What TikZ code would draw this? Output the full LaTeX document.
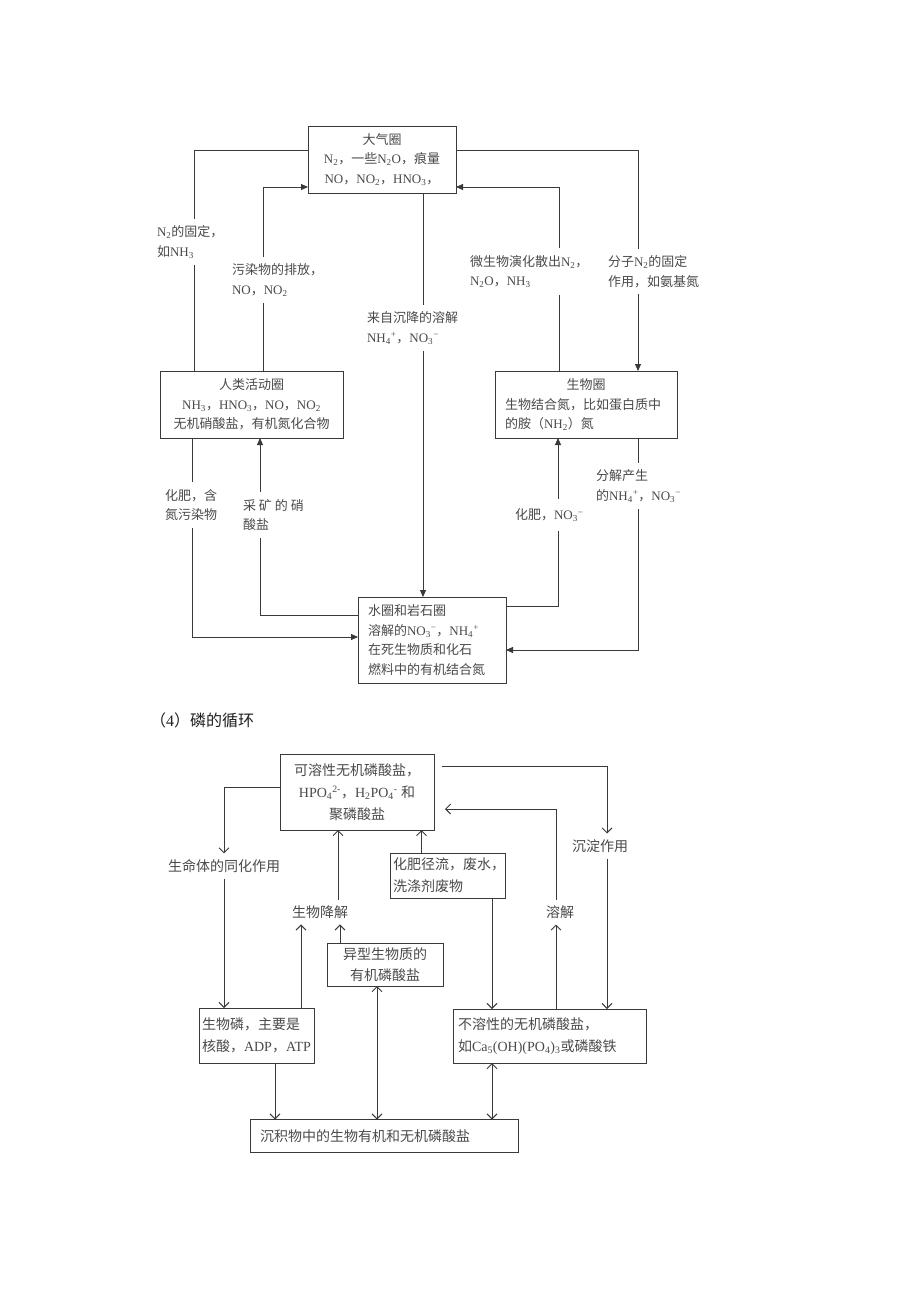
\documentclass[tikz,border=0pt]{standalone}
\usepackage{fontspec}
\setmainfont{Liberation Serif}
\newfontfamily\cjk{Noto Sans CJK SC}
\newcommand\zh[1]{{\cjk #1}}
\newcommand\sub[1]{\textsubscript{#1}}
\newcommand\sps[1]{\textsuperscript{#1}}
\usetikzlibrary{arrows.meta}
\definecolor{lineN}{HTML}{3A3A3A}
\definecolor{textN}{HTML}{4A4A4A}
\definecolor{titleC}{HTML}{202020}
\begin{document}
\begin{tikzpicture}[x=1pt,y=-1pt,
  every node/.style={inner sep=0pt, outer sep=0pt},
  nbox/.style={draw=lineN, line width=0.9pt, fill=white, text=textN, align=center,
    font=\fontsize{13}{19.5}\selectfont},
  nlab/.style={fill=white, text=textN, inner xsep=1pt, inner ysep=7pt, align=left, anchor=west,
    font=\fontsize{13}{19.5}\selectfont},
  nline/.style={draw=lineN, line width=0.9pt},
  narr/.style={nline, -{Triangle[length=7pt,width=6pt]}},
  pbox/.style={draw=lineN, line width=0.9pt, fill=white, text=textN, align=center,
    font=\fontsize{14}{22}\selectfont},
  plab/.style={text=textN, inner ysep=6pt, font=\fontsize{14}{22}\selectfont},
  parr/.style={draw=lineN, line width=0.9pt, -{Straight Barb[length=5pt,width=10pt]}},
  pdarr/.style={draw=lineN, line width=0.9pt, {Straight Barb[length=5pt,width=10pt]}-{Straight Barb[length=5pt,width=10pt]}}
]
\fill[white] (0,0) rectangle (920,1302);
\useasboundingbox (0,0) rectangle (920,1302);

% ---------------- nitrogen cycle ----------------
\node[nbox, minimum width=148pt, minimum height=67pt] (atm) at (382,159.5)
  {\zh{大气圈}\\N\sub{2}\zh{，一些}N\sub{2}O\zh{，痕量}\\NO\zh{，}NO\sub{2}\zh{，}HNO\sub{3}\zh{，}};
\node[nbox, minimum width=183pt, minimum height=67pt] (human) at (251.5,404.5)
  {\zh{人类活动圈}\\NH\sub{3}\zh{，}HNO\sub{3}\zh{，}NO\zh{，}NO\sub{2}\\\zh{无机硝酸盐，有机氮化合物}};
\node[nbox, minimum width=182pt, minimum height=67pt] (bio) at (586,404.5)
  {\zh{生物圈}\\\makebox[162pt][l]{\zh{生物结合氮，比如蛋白质中}}\\\makebox[162pt][l]{\zh{的胺（}NH\sub{2}\zh{）氮}}};
\node[nbox, minimum width=148pt, minimum height=86pt] (water) at (432,640)
  {\makebox[128pt][l]{\zh{水圈和岩石圈}}\\
   \makebox[128pt][l]{\zh{溶解的}NO\sub{3}\sps{−}\zh{，}NH\sub{4}\sps{+}}\\
   \makebox[128pt][l]{\zh{在死生物质和化石}}\\
   \makebox[128pt][l]{\zh{燃料中的有机结合氮}}};

\coordinate (c3) at ([xshift=41pt]atm.south);
\draw[nline] ([yshift=9.5pt]atm.west) -| ([xshift=-57.5pt]human.north);
\draw[narr] ([xshift=11.5pt]human.north) |- ([yshift=-27.5pt]atm.west);
\draw[narr] (c3) -- (c3 |- water.north);
\draw[narr] ([yshift=9.5pt]atm.east) -| ([xshift=52pt]bio.north);
\draw[narr] ([xshift=-27pt]bio.north) |- ([yshift=-27.5pt]atm.east);
\draw[narr] ([xshift=-59.5pt]human.south) |- ([yshift=3pt]water.west);
\draw[narr] ([yshift=25pt]water.west) -| ([xshift=8.5pt]human.south);
\draw[narr] ([yshift=34pt]water.east) -| ([xshift=-28pt]bio.south);
\draw[narr] ([xshift=52pt]bio.south) |- ([yshift=-10pt]water.east);

\node[nlab] (l1) at (156,242) {N\sub{2}\zh{的固定，}\\\zh{如}NH\sub{3}};
\node[nlab] (l2) at (231,280) {\zh{污染物的排放，}\\NO\zh{，}NO\sub{2}};
\node[nlab] (l3) at (366,328) {\zh{来自沉降的溶解}\\NH\sub{4}\sps{+}\zh{，}NO\sub{3}\sps{−}};
\node[nlab] (l4) at (469,271.5) {\zh{微生物演化散出}N\sub{2}\zh{，}\\N\sub{2}O\zh{，}NH\sub{3}};
\node[nlab] (l5) at (607,271.5) {\zh{分子}N\sub{2}\zh{的固定}\\\zh{作用，如氨基氮}};
\node[nlab] (l6) at (164,505) {\zh{化肥，含}\\\zh{氮污染物}};
\node[nlab] (l7) at (242,515) {\zh{采\hspace{3pt}矿\hspace{3pt}的\hspace{3pt}硝}\\\zh{酸盐}};
\node[nlab, inner ysep=10pt] (l8) at (514,515) {\zh{化肥，}NO\sub{3}\sps{−}};
\node[nlab] (l9) at (595,486) {\zh{分解产生}\\\zh{的}NH\sub{4}\sps{+}\zh{，}NO\sub{3}\sps{−}};

% ---------------- title ----------------
\node[anchor=west, text=titleC, font=\fontsize{16}{20}\selectfont] (title) at (150,720)
  {\zh{（}4\zh{）磷的循环}};

% ---------------- phosphorus cycle ----------------
\node[pbox, minimum width=154pt, minimum height=76pt] (Psol) at (357,792)
  {\zh{可溶性无机磷酸盐，}\\HPO\sub{4}\sps{2-}\zh{，}H\sub{2}PO\sub{4}\sps{-} \zh{和}\\\zh{聚磷酸盐}};
\node[pbox, minimum width=115pt, minimum height=45pt] (Pfert) at (447.5,875.5)
  {\makebox[109pt][l]{\zh{化肥径流，废水，}}\\\makebox[109pt][l]{\zh{洗涤剂废物}}};
\node[pbox, minimum width=116pt, minimum height=43pt, font=\fontsize{14}{21}\selectfont] (Pxeno) at (385,964.5)
  {\zh{异型生物质的}\\\zh{有机磷酸盐}};
\node[pbox, minimum width=115pt, minimum height=55pt] (Pbio) at (256.5,1035.5)
  {\makebox[109pt][l]{\zh{生物磷，主要是}}\\\makebox[109pt][l]{\zh{核酸，}ADP\zh{，}ATP}};
\node[pbox, minimum width=193pt, minimum height=54pt] (Pinsol) at (549.5,1036)
  {\makebox[183pt][l]{\zh{不溶性的无机磷酸盐，}}\\\makebox[183pt][l]{\zh{如}Ca\sub{5}(OH)(PO\sub{4})\sub{3}\zh{或磷酸铁}}};
\node[pbox, minimum width=268pt, minimum height=33pt] (Psed) at (384,1136)
  {\makebox[248pt][l]{\zh{沉积物中的生物有机和无机磷酸盐}}};

\node[plab] (assim) at (224,866) {\zh{生命体的同化作用}};
\node[plab] (sed) at (600,846) {\zh{沉淀作用}};
\node[plab] (dis) at (560,912) {\zh{溶解}};
\node[plab] (deg) at (320,912) {\zh{生物降解}};

\coordinate (a1) at (assim.south);
\draw[parr] ([yshift=5pt]Psol.west) -| (assim.north);
\draw[parr] (a1) -- (a1 |- Pbio.north);

\coordinate (s0) at ([xshift=8pt,yshift=26pt]Psol.east);
\coordinate (s1) at ([xshift=7pt]sed.north);
\coordinate (s2) at ([xshift=7pt]sed.south);
\draw[parr] (s0) -| (s1);
\draw[parr] (s2) -- (s2 |- Pinsol.north);

\coordinate (d0) at ([xshift=6.5pt]Pinsol.north);
\coordinate (d1) at ([xshift=-4pt]dis.north);
\draw[parr] (d0) -- (d0 |- dis.south);
\draw[parr] (d1) |- ([xshift=11pt,yshift=-17pt]Psol.east);

\coordinate (g0) at ([xshift=44.5pt]Pbio.north);
\coordinate (g1) at ([xshift=-45pt]Pxeno.north);
\coordinate (g2) at ([xshift=18pt]deg.north);
\draw[parr] (g0) -- (g0 |- deg.south);
\draw[parr] (g1) -- (g1 |- deg.south);
\draw[parr] (g2) -- (g2 |- Psol.south);

\coordinate (f1) at ([xshift=-26pt]Pfert.north);
\coordinate (f2) at ([xshift=44.5pt]Pfert.south);
\draw[parr] (f1) -- (f1 |- Psol.south);
\draw[parr] (f2) -- (f2 |- Pinsol.north);

\coordinate (x1) at ([xshift=-8pt]Pxeno.south);
\coordinate (b1) at ([xshift=18.5pt]Pbio.south);
\coordinate (i1) at ([xshift=-57.5pt]Pinsol.south);
\draw[pdarr] (x1) -- (x1 |- Psed.north);
\draw[parr] (b1) -- (b1 |- Psed.north);
\draw[pdarr] (i1) -- (i1 |- Psed.north);
\end{tikzpicture}
\end{document}
